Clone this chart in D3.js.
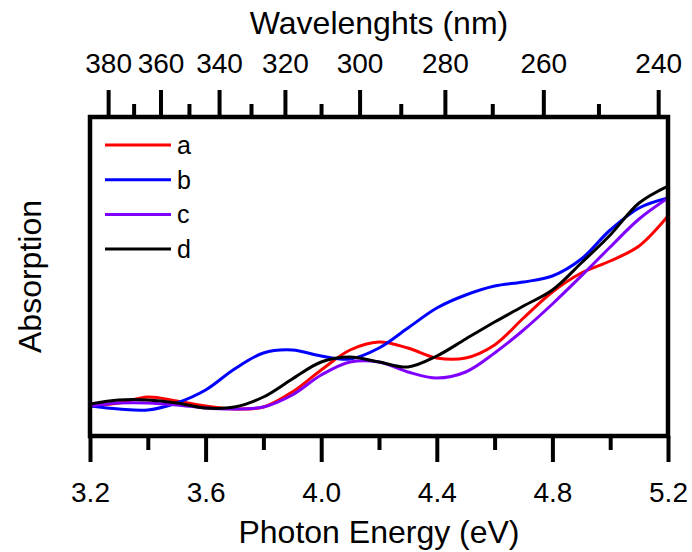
<!DOCTYPE html>
<html>
<head>
<meta charset="utf-8">
<script src="https://cdn.jsdelivr.net/npm/d3@7"></script>
<style>
  body { margin: 0; background: #fff; }
  text { font-family: "Liberation Sans", Arial, sans-serif; fill: #000; }
</style>
</head>
<body>
<svg id="chart"></svg>
<script>
// photon energy grid (eV)
const energy = [3.2, 3.3, 3.4, 3.5, 3.6, 3.7, 3.8, 3.9, 4.0, 4.1, 4.2, 4.3, 4.4, 4.5, 4.6, 4.7, 4.8, 4.9, 5.0, 5.1, 5.2];

// absorption (arb. units)
const seriesA = [0.30, 0.33, 0.39, 0.35, 0.30, 0.27, 0.29, 0.44, 0.66, 0.86, 0.94, 0.88, 0.78, 0.78, 0.91, 1.18, 1.44, 1.63, 1.75, 1.90, 2.20];
const seriesB = [0.30, 0.27, 0.26, 0.33, 0.46, 0.67, 0.83, 0.86, 0.80, 0.77, 0.88, 1.08, 1.28, 1.41, 1.50, 1.54, 1.60, 1.77, 2.06, 2.28, 2.38];
const seriesC = [0.30, 0.33, 0.33, 0.31, 0.28, 0.27, 0.29, 0.41, 0.61, 0.74, 0.74, 0.64, 0.58, 0.64, 0.83, 1.06, 1.32, 1.60, 1.89, 2.17, 2.38];
const seriesD = [0.32, 0.36, 0.36, 0.33, 0.28, 0.29, 0.39, 0.57, 0.74, 0.79, 0.74, 0.69, 0.80, 0.97, 1.14, 1.30, 1.46, 1.73, 2.01, 2.33, 2.50];

const seriesNames = ['a', 'b', 'c', 'd'];
const seriesColors = ['#ff0000', '#0000ff', '#8000ff', '#000000'];

// tick labels
const energyTicks = [3.2, 3.6, 4.0, 4.4, 4.8, 5.2];
const energyMinor = [3.4, 3.8, 4.2, 4.6, 5.0];
const waveTicks = [380, 360, 340, 320, 300, 280, 260, 240];
const waveMinor = [370, 350, 330, 310, 290, 270, 250];

const W = 692, H = 552;
const margin = { top: 117, right: 24, bottom: 116, left: 90 };
const width = W - margin.left - margin.right;
const height = H - margin.top - margin.bottom;

const svg = d3.select('#chart').attr('width', W).attr('height', H);
const g = svg.append('g').attr('transform', `translate(${margin.left},${margin.top})`);

const x = d3.scaleLinear().domain([3.2, 5.2]).range([0, width]);
const y = d3.scaleLinear().domain([0, 3.19]).range([height, 0]);
const toEnergy = nm => 1239.84 / nm;

// clip
svg.append('defs').append('clipPath').attr('id', 'clip')
  .append('rect').attr('width', width).attr('height', height);

// curves
const line = d3.line()
  .x((d, i) => x(energy[i]))
  .y(d => y(d))
  .curve(d3.curveCatmullRom.alpha(0.5));

const allSeries = [seriesA, seriesB, seriesC, seriesD];
g.append('g').attr('clip-path', 'url(#clip)')
  .selectAll('path')
  .data(allSeries)
  .join('path')
  .attr('fill', 'none')
  .attr('stroke', (d, i) => seriesColors[i])
  .attr('stroke-width', 3)
  .attr('d', line);

// axes
function styleAxis(sel) {
  sel.select('.domain').remove();
  sel.selectAll('line').attr('stroke', '#000').attr('stroke-width', 4);
  sel.selectAll('text').attr('font-size', 28).style('font-family', '"Liberation Sans", Arial, sans-serif');
}

g.append('g')
  .attr('transform', `translate(0,${height})`)
  .call(d3.axisBottom(x).tickValues(energyTicks).tickFormat(d3.format('.1f')).tickSize(26).tickPadding(20))
  .call(styleAxis);

g.append('g')
  .attr('transform', `translate(0,${height})`)
  .call(d3.axisBottom(x).tickValues(energyMinor).tickFormat('').tickSize(14))
  .call(styleAxis);

g.append('g')
  .call(d3.axisTop(x).tickValues(waveTicks.map(toEnergy))
    .tickFormat(e => Math.round(1239.84 / e)).tickSize(27).tickPadding(17))
  .call(styleAxis);

g.append('g')
  .call(d3.axisTop(x).tickValues(waveMinor.map(toEnergy)).tickFormat('').tickSize(13))
  .call(styleAxis);

// frame
g.append('rect')
  .attr('width', width).attr('height', height)
  .attr('fill', 'none').attr('stroke', '#000').attr('stroke-width', 4.5);

// axis titles
svg.append('text')
  .attr('x', margin.left + width / 2).attr('y', 543)
  .attr('text-anchor', 'middle').attr('font-size', 32)
  .text('Photon Energy (eV)');

svg.append('text')
  .attr('x', margin.left + width / 2).attr('y', 34)
  .attr('text-anchor', 'middle').attr('font-size', 32)
  .text('Wavelenghts (nm)');

svg.append('text')
  .attr('transform', `translate(41,${margin.top + height / 2}) rotate(-90)`)
  .attr('text-anchor', 'middle').attr('font-size', 32)
  .text('Absorption');

// legend
const legend = g.append('g').attr('transform', 'translate(15,28)');
const rows = legend.selectAll('g').data(seriesNames).join('g')
  .attr('transform', (d, i) => `translate(0,${i * 34.7})`);
rows.append('line')
  .attr('x1', 0).attr('x2', 66)
  .attr('stroke', (d, i) => seriesColors[i]).attr('stroke-width', 3);
rows.append('text')
  .attr('x', 72).attr('y', 9).attr('font-size', 25)
  .text(d => d);
</script>
</body>
</html>
